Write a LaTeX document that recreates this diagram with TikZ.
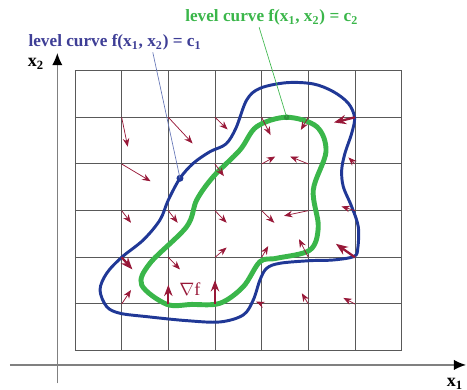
\documentclass[tikz,border=0pt]{standalone}
\usepackage{fontspec}
\setmainfont{Liberation Serif}
\usetikzlibrary{arrows.meta}
\definecolor{lvlblue}{RGB}{32,56,150}
\definecolor{lvlgreen}{RGB}{58,182,74}
\definecolor{lbltext}{RGB}{62,62,150}
\definecolor{gradred}{RGB}{152,24,56}
\tikzset{
  grid line/.style={black!65,line width=0.6pt},
  axis line/.style={-{Latex[length=2.6mm,width=2.2mm,black]},black!50,line width=0.9pt},
  grad arrow/.style={-{Stealth[length=1.8mm,width=1.4mm]},gradred,line width=0.45pt},
  grad arrow bold/.style={-{Stealth[length=2.6mm,width=2mm]},gradred,line width=1.4pt},
  grad nabla/.style={-{Stealth[length=2.4mm,width=1.8mm]},gradred,line width=1.1pt},
  level blue/.style={lvlblue,line width=1.8pt},
  level green/.style={lvlgreen,line width=3pt},
  level label/.style={font=\fontsize{10.5}{12}\selectfont\bfseries,anchor=base,inner sep=1pt},
  axis label/.style={font=\fontsize{11}{12}\selectfont\bfseries},
  leader/.style={line width=0.4pt}
}

\begin{document}
\begin{tikzpicture}
  \useasboundingbox (-1.607,-0.842) rectangle (8.40,7.514);

  % grid
  \foreach \i in {0,...,7} \draw[grid line] (\i,0) -- (\i,6);
  \foreach \j in {0,...,6} \draw[grid line] (0,\j) -- (7,\j);

  % axes
  \draw[axis line] (-0.379,-0.699) -- (-0.379,6.379);
  \draw[axis line] (-1.393,-0.306) -- (8.38,-0.306);
  \node[axis label] (x2 lbl) at (-0.836,6.143) {x\textsubscript{2}};
  \node[axis label] (x1 lbl) at (8.14,-0.71) {x\textsubscript{1}};

  % level curves
  \draw[level blue] plot[smooth cycle,tension=0.55] coordinates {
    (2.25,3.694) (2.535,4.015) (2.893,4.264) (3.235,4.429) (3.45,4.772)
    (3.679,5.372) (3.964,5.622) (4.536,5.742) (5.106,5.715) (5.535,5.55)
    (5.856,5.301) (5.99,5.0) (5.929,4.658) (5.785,4.23) (5.715,3.872)
    (5.749,3.514) (5.929,3.086) (6.07,2.657) (6.06,2.2) (5.98,2.02)
    (5.535,1.943) (5.035,1.928) (4.393,1.873) (4.108,1.766) (3.964,1.515)
    (3.82,1.086) (3.606,0.765) (3.107,0.615) (2.393,0.643) (1.536,0.729)
    (0.964,0.801) (0.679,0.943) (0.536,1.301) (0.679,1.658) (1.0,2.0)
    (1.464,2.372) (1.821,2.801) (2.0,3.229)};
  \draw[level green] plot[smooth cycle,tension=0.55] coordinates {
    (4.536,5.001) (5.179,4.80) (5.378,4.264) (5.106,3.443) (5.213,2.657)
    (5.035,2.157) (4.322,1.98) (3.964,1.907) (3.606,1.371) (3.107,1.016)
    (2.5,0.99) (1.965,0.994) (1.429,1.408) (1.607,1.873) (2.393,2.657)
    (2.608,3.229) (2.963,3.728) (3.535,4.3) (3.893,4.8)};

  % gradient field
  \foreach \x/\y/\dx/\dy in {
    1/5/0.13/-0.63, 2/5/0.52/-0.56, 3/5/0.27/-0.26, 4/5/0.19/-0.38, 5/5/-0.16/-0.27,
    1/4/0.62/-0.37, 3/4/0.19/-0.26, 4/4/0.29/0.16, 5/4/-0.39/0.16, 6/4/-0.14/0.14,
    1/3/0.2/-0.26, 2/3/0.2/-0.26, 3/3/0.25/-0.26, 4/3/0.27/-0.26, 5/3/-0.52/-0.11, 6/3/-0.29/0.09,
    2/2/0.25/-0.26, 3/2/0.25/0.21, 4/2/0.14/0.24, 5/2/-0.2/0.39,
    1/1/0.2/0.3, 4/1/-0.12/0.05, 5/1/-0.14/0.23, 6/1/-0.25/0.13}
    \draw[grad arrow] (\x,\y) -- ++(\dx,\dy);
  \draw[grad arrow bold] (6,5) -- ++(-0.45,-0.11);
  \draw[grad arrow bold] (1,2) -- ++(0.23,-0.26);
  \draw[grad arrow bold] (6,2) -- ++(-0.41,0.29);
  \draw[grad nabla] (2,1) -- ++(0,0.41);
  \draw[grad nabla] (3,1) -- ++(0,0.51);
  \node[text=gradred,font=\fontsize{11}{12}\selectfont] (nabla lbl) at (2.464,1.321) {$\nabla$f};

  % labels
  \coordinate (c1 dot) at (2.25,3.694);
  \coordinate (c2 dot) at (4.536,5.001);
  \fill[lvlblue] (c1 dot) circle[radius=0.075];
  \fill[lvlgreen!80!black] (c2 dot) circle[radius=0.06];
  \node[level label,text=lbltext] (c1 lbl) at (0.857,6.514)
    {level curve f(x\textsubscript{1}, x\textsubscript{2}) = c\textsubscript{1}};
  \node[level label,text=lvlgreen] (c2 lbl) at (4.215,7.05)
    {level curve f(x\textsubscript{1}, x\textsubscript{2}) = c\textsubscript{2}};
  \draw[leader,lvlblue!70] ([xshift=0.81cm]c1 lbl.south) -- (c1 dot);
  \draw[leader,lvlgreen] ([xshift=-0.27cm]c2 lbl.south) -- (c2 dot);
\end{tikzpicture}
\end{document}
